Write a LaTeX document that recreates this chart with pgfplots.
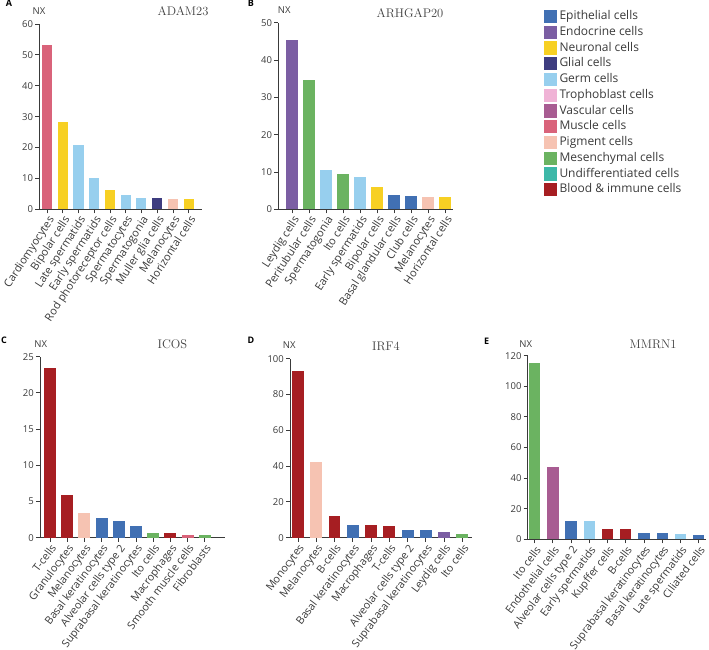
\documentclass[border=0pt]{standalone}
\usepackage{fontspec}
\usepackage{pgfplots}
\pgfplotsset{compat=1.18}
\newfontfamily\osans{Open Sans}
\definecolor{epi}{HTML}{4170B3}
\definecolor{endo}{HTML}{7B5EA3}
\definecolor{neur}{HTML}{F7D023}
\definecolor{glia}{HTML}{3E3D80}
\definecolor{germ}{HTML}{97CFEE}
\definecolor{troph}{HTML}{F0B3D6}
\definecolor{vasc}{HTML}{A85C92}
\definecolor{musc}{HTML}{D9637A}
\definecolor{pigm}{HTML}{F6C3B2}
\definecolor{mesen}{HTML}{6BB361}
\definecolor{undiff}{HTML}{3DB8A8}
\definecolor{blood}{HTML}{A61E22}
\definecolor{axgray}{HTML}{3A3A3A}
\pgfplotsset{
  panel/.style 2 args={
    scale only axis, anchor=south west,
    axis lines=left, axis line style={-, line width=0.9pt, color=axgray},
    ymin=0, ybar,
    tick align=outside, major tick length=4pt,
    tick style={line width=0.8pt, color=axgray},
    xtick={0,...,9},
    xticklabel style={rotate=#1, anchor=north east, font=\osans\fontsize{#2}{13}\selectfont, color=axgray, inner sep=1pt},
    yticklabel style={font=\osans\fontsize{9.5}{11}\selectfont, color=axgray, inner sep=2pt},
    /pgf/number format/assume math mode=true,
    clip=false,
    every axis plot/.append style={draw=none, bar shift=0pt},
  },
}
\begin{document}
\begin{tikzpicture}
\path[use as bounding box] (0pt,0pt) rectangle (709pt,650pt);

% Panel A
\begin{axis}[panel={57}{11}, at={(39.3pt,440.7pt)}, width=162.4pt, height=185.3pt,
  xmin=-0.49, xmax=9.83, ymax=60, ytick={0,10,...,60}, bar width=0.64,
  xticklabels={Cardiomyocytes, Bipolar cells, Late spermatids, Early spermatids, Rod photoreceptor cells, Spermatocytes, Spermatogonia, Muller glia cells, Melanocytes, Horizontal cells}]
\addplot[fill=musc] coordinates {(0,53.2)};
\addplot[fill=neur] coordinates {(1,28.2)};
\addplot[fill=germ] coordinates {(2,20.7)};
\addplot[fill=germ] coordinates {(3,10.0)};
\addplot[fill=neur] coordinates {(4,6.1)};
\addplot[fill=germ] coordinates {(5,4.6)};
\addplot[fill=germ] coordinates {(6,3.8)};
\addplot[fill=glia] coordinates {(7,3.6)};
\addplot[fill=pigm] coordinates {(8,3.3)};
\addplot[fill=neur] coordinates {(9,3.3)};
\end{axis}

% Panel B
\begin{axis}[panel={57}{11}, at={(278.3pt,440.7pt)}, width=174.7pt, height=186.6pt,
  xmin=-0.81, xmax=9.47, ymax=50, ytick={0,10,...,50}, bar width=0.7,
  xticklabels={Leydig cells, Peritubular cells, Spermatogonia, Ito cells, Early spermatids, Bipolar cells, Basal glandular cells, Club cells, Melanocytes, Horizontal cells}]
\addplot[fill=endo] coordinates {(0,45.3)};
\addplot[fill=mesen] coordinates {(1,34.6)};
\addplot[fill=germ] coordinates {(2,10.5)};
\addplot[fill=mesen] coordinates {(3,9.4)};
\addplot[fill=germ] coordinates {(4,8.6)};
\addplot[fill=neur] coordinates {(5,6.1)};
\addplot[fill=epi] coordinates {(6,3.7)};
\addplot[fill=epi] coordinates {(7,3.6)};
\addplot[fill=pigm] coordinates {(8,3.4)};
\addplot[fill=neur] coordinates {(9,3.3)};
\end{axis}

% Panel C
\begin{axis}[panel={53}{10.8}, at={(40pt,112.3pt)}, width=185pt, height=181pt,
  xmin=-0.58, xmax=10.18, ymax=25, ytick={0,5,...,25}, bar width=0.7,
  xticklabels={T-cells, Granulocytes, Melanocytes, Basal keratinocytes, Alveolar cells type 2, Suprabasal keratinocytes, Ito cells, Macrophages, Smooth muscle cells, Fibroblasts}]
\addplot[fill=blood] coordinates {(0,23.5)};
\addplot[fill=blood] coordinates {(1,5.85)};
\addplot[fill=pigm] coordinates {(2,3.36)};
\addplot[fill=epi] coordinates {(3,2.67)};
\addplot[fill=epi] coordinates {(4,2.26)};
\addplot[fill=epi] coordinates {(5,1.66)};
\addplot[fill=mesen] coordinates {(6,0.65)};
\addplot[fill=blood] coordinates {(7,0.65)};
\addplot[fill=musc] coordinates {(8,0.35)};
\addplot[fill=mesen] coordinates {(9,0.35)};
\end{axis}

% Panel D
\begin{axis}[panel={53}{10.8}, at={(290pt,112.3pt)}, width=181.7pt, height=179pt,
  xmin=-0.44, xmax=9.51, ymax=100, ytick={0,20,...,100}, bar width=0.65,
  xticklabels={Monocytes, Melanocytes, B-cells, Basal keratinocytes, Macrophages, T-cells, Alveolar cells type 2, Suprabasal keratinocytes, Leydig cells, Ito cells}]
\addplot[fill=blood] coordinates {(0,93.3)};
\addplot[fill=pigm] coordinates {(1,42.5)};
\addplot[fill=blood] coordinates {(2,11.9)};
\addplot[fill=epi] coordinates {(3,7.3)};
\addplot[fill=blood] coordinates {(4,7.0)};
\addplot[fill=blood] coordinates {(5,6.3)};
\addplot[fill=epi] coordinates {(6,4.3)};
\addplot[fill=epi] coordinates {(7,4.1)};
\addplot[fill=endo] coordinates {(8,3.2)};
\addplot[fill=mesen] coordinates {(9,1.9)};
\end{axis}

% Panel E
\begin{axis}[panel={53}{10.8}, at={(527.7pt,110.7pt)}, width=178.3pt, height=183.6pt,
  xmin=-0.38, xmax=9.4, ymax=120, ytick={0,20,...,120}, bar width=0.62,
  xticklabels={Ito cells, Endothelial cells, Alveolar cells type 2, Early spermatids, Kupffer cells, B-cells, Suprabasal keratinocytes, Basal keratinocytes, Late spermatids, Ciliated cells}]
\addplot[fill=mesen] coordinates {(0,115.0)};
\addplot[fill=vasc] coordinates {(1,47.5)};
\addplot[fill=epi] coordinates {(2,12.2)};
\addplot[fill=germ] coordinates {(3,12.0)};
\addplot[fill=blood] coordinates {(4,6.75)};
\addplot[fill=blood] coordinates {(5,6.5)};
\addplot[fill=epi] coordinates {(6,4.4)};
\addplot[fill=epi] coordinates {(7,4.2)};
\addplot[fill=germ] coordinates {(8,3.3)};
\addplot[fill=epi] coordinates {(9,3.0)};
\end{axis}

% Legend
\begin{axis}[at={(0pt,0pt)}, anchor=south west, scale only axis, width=709pt, height=650pt,
  xmin=0, xmax=709, ymin=0, ymax=650, hide axis,
  legend cell align=left,
  legend image code/.code={\fill[#1, draw=none] (0pt,-6.6pt) rectangle (13.3pt,6.6pt); \path (15.8pt,0pt);},
  legend style={at={(543.3/709,641.5/650)}, anchor=north west, draw=none, fill=none,
    inner sep=0pt, row sep=0pt, column sep=0pt,
    font=\osans\fontsize{12}{14}\selectfont, text=axgray,
    nodes={inner sep=0pt, text height=11pt, text depth=4.75pt, anchor=west}}]
\addlegendimage{fill=epi}\addlegendentry{Epithelial cells}
\addlegendimage{fill=endo}\addlegendentry{Endocrine cells}
\addlegendimage{fill=neur}\addlegendentry{Neuronal cells}
\addlegendimage{fill=glia}\addlegendentry{Glial cells}
\addlegendimage{fill=germ}\addlegendentry{Germ cells}
\addlegendimage{fill=troph}\addlegendentry{Trophoblast cells}
\addlegendimage{fill=vasc}\addlegendentry{Vascular cells}
\addlegendimage{fill=musc}\addlegendentry{Muscle cells}
\addlegendimage{fill=pigm}\addlegendentry{Pigment cells}
\addlegendimage{fill=mesen}\addlegendentry{Mesenchymal cells}
\addlegendimage{fill=undiff}\addlegendentry{Undifferentiated cells}
\addlegendimage{fill=blood}\addlegendentry{Blood \& immune cells}
\end{axis}

% Texts
\begin{scope}[every node/.style={inner sep=0pt, text=axgray}]
\node[font=\osans\bfseries\fontsize{9}{10}\selectfont, text=black] at (9pt,646.5pt) {A};
\node[font=\osans\bfseries\fontsize{9}{10}\selectfont, text=black] at (250.8pt,646.5pt) {B};
\node[font=\osans\bfseries\fontsize{9}{10}\selectfont, text=black] at (4pt,310pt) {C};
\node[font=\osans\bfseries\fontsize{9}{10}\selectfont, text=black] at (251pt,310pt) {D};
\node[font=\osans\bfseries\fontsize{9}{10}\selectfont, text=black] at (486.7pt,308.3pt) {E};
\node[font=\osans\fontsize{9.5}{10}\selectfont] at (39pt,639.3pt) {NX};
\node[font=\osans\fontsize{9.5}{10}\selectfont] at (284.2pt,640pt) {NX};
\node[font=\osans\fontsize{9.5}{10}\selectfont] at (40.8pt,305.7pt) {NX};
\node[font=\osans\fontsize{9.5}{10}\selectfont] at (289.2pt,305pt) {NX};
\node[font=\osans\fontsize{9.5}{10}\selectfont] at (525.8pt,305.7pt) {NX};
\node[font=\fontsize{12.5}{14}\selectfont, text=black!75] at (183pt,638.7pt) {ADAM23};
\node[font=\fontsize{12.5}{14}\selectfont, text=black!75] at (410pt,637.3pt) {ARHGAP20};
\node[font=\fontsize{12.5}{14}\selectfont, text=black!75] at (172.5pt,306pt) {ICOS};
\node[font=\fontsize{12.5}{14}\selectfont, text=black!75] at (386pt,304pt) {IRF4};
\node[font=\fontsize{12.5}{14}\selectfont, text=black!75] at (653pt,306pt) {MMRN1};
\end{scope}
\end{tikzpicture}
\end{document}
